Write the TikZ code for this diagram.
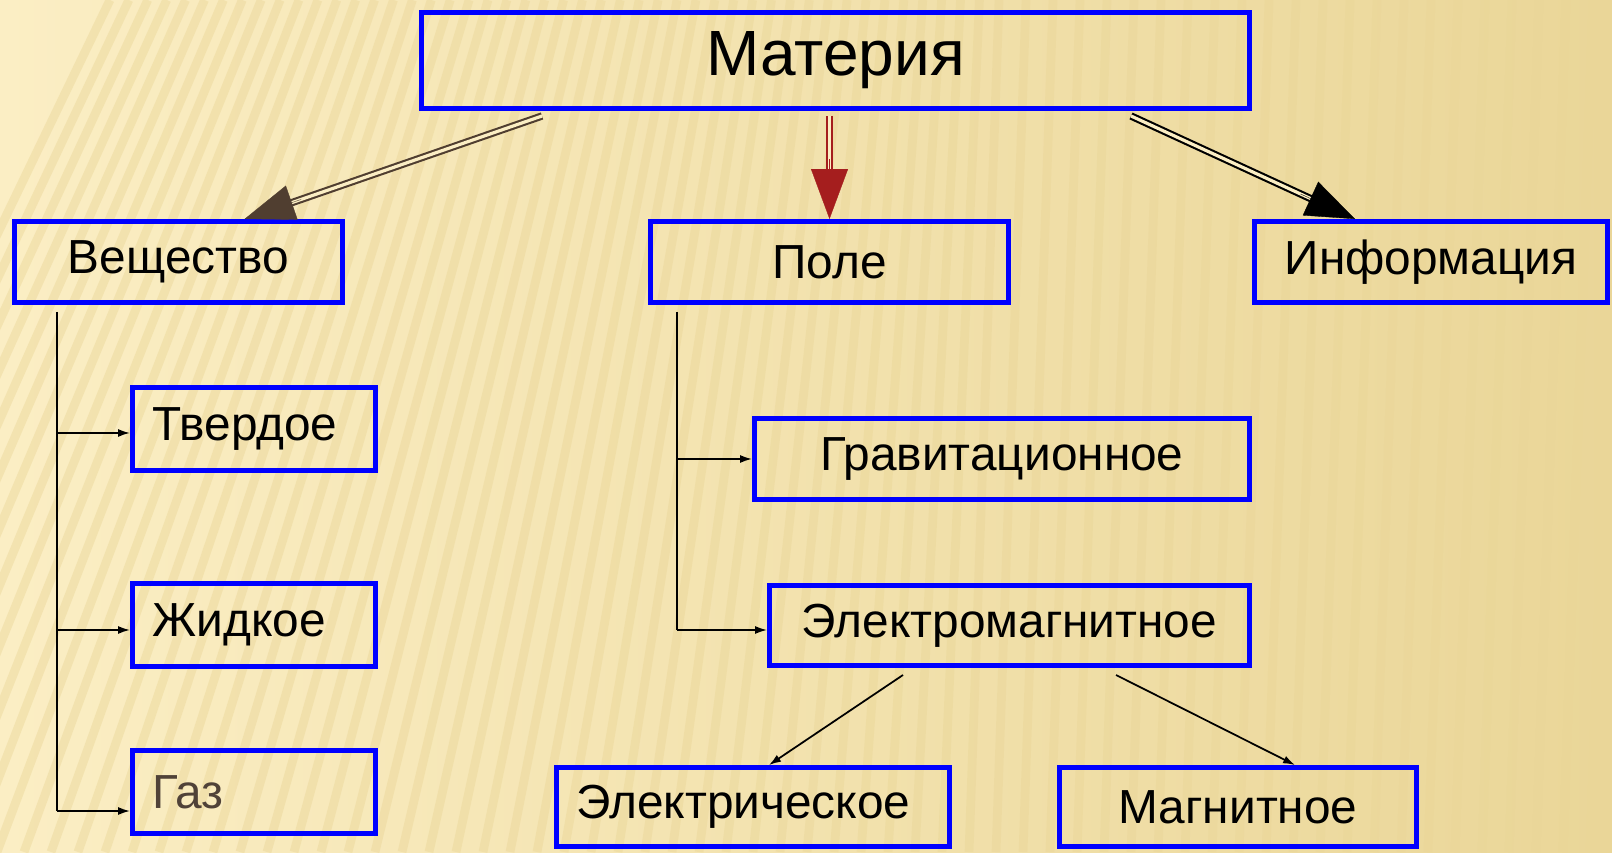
\documentclass[tikz,border=0pt]{standalone}
\usepackage{fontspec}
\setmainfont{Liberation Sans}
\usetikzlibrary{calc,positioning,arrows.meta}

\definecolor{bgcream}{RGB}{251,238,196}
\definecolor{bgtan}{RGB}{234,214,152}
\definecolor{boxblue}{RGB}{0,0,255}
\definecolor{arrbrown}{RGB}{80,62,48}
\definecolor{arrred}{RGB}{165,30,30}
\definecolor{gaztext}{RGB}{80,66,56}

\tikzset{
  box/.style={draw=boxblue, line width=1.4pt, minimum height=0.81cm, inner sep=0pt,
    font=\fontsize{13.6}{16}\selectfont},
  leftbox/.style={box, minimum width=2.43cm, minimum height=0.83cm, inner xsep=0.2cm, text width=2.03cm, align=left},
  thinarrow/.style={line width=0.5pt, -{Latex[length=1.2mm,width=0.8mm]}},
  dblline/.style={double=bgcream, double distance=0.9pt, line width=0.6pt},
  stripe/.style={draw=bgtan, line width=2.5pt, opacity=0.45}
}

\begin{document}
\begin{tikzpicture}
        \useasboundingbox (0,0) rectangle (16.12,8.52);
        % background
        \shade[left color=bgcream, right color=bgtan] (0,0) rectangle (16.12,8.52);
        \begin{scope}
            \clip (0,0) rectangle (16.12,8.52);
            \foreach \i in {0,...,80}{
                \pgfmathsetmacro{\xb}{\i*0.27-3}
                \pgfmathsetmacro{\sl}{max(0.3,3.2-0.3*\xb)}
                \draw[stripe] (\xb,0) -- (\xb+\sl,8.52);
            }
        \end{scope}

        % boxes
        \node[box, minimum width=8.28cm, minimum height=0.96cm, font=\fontsize{18.2}{21}\selectfont] (mat) at (8.355,7.915) {Материя};
        \node[box, minimum width=3.28cm] (vesh) at (1.785,5.90) {Вещество};
        \node[box, minimum width=3.58cm] (pole) at (8.295,5.90) {Поле};
        \node[box, minimum width=3.53cm] (info) at (14.31,5.90) {Информация};

        \node[leftbox] (tverd) at (2.54,4.23) {Твердое};
        \node[leftbox] (zhid) at (2.54,2.27) {Жидкое};
        \node[leftbox, text=gaztext] (gaz) at (2.54,0.60) {Газ};

        \node[box, minimum width=4.95cm] (grav) at (10.02,3.93) {Гравитационное};
        \node[box, minimum width=4.80cm, minimum height=0.80cm] (elmag) at (10.095,2.265) {Электромагнитное};
        \node[box, minimum width=3.93cm, minimum height=0.79cm, inner xsep=0.2cm, text width=3.53cm, align=left] (elek) at (7.53,0.45) {Электрическое};
        \node[box, minimum width=3.57cm, minimum height=0.79cm] (magn) at (12.38,0.45) {Магнитное};

        % double arrows from the top box
        \coordinate (m1) at (5.42,7.36);
        \coordinate (m2) at (8.295,7.36);
        \coordinate (m3) at (11.31,7.36);
        \coordinate (t1) at ([xshift=0.66cm]vesh.north);
        \coordinate (t3) at ([xshift=-0.76cm]info.north);

        \draw[dblline, draw=arrbrown, shorten >=0.4cm] (m1) -- (t1);
        \draw[arrbrown, line width=0.1pt, -{Triangle[length=0.5cm,width=0.36cm]}] ($(t1)!0.6cm!(m1)$) -- (t1);
        \draw[dblline, draw=arrred, shorten >=0.4cm] (m2) -- (pole.north);
        \draw[arrred, line width=0.1pt, -{Triangle[length=0.5cm,width=0.37cm]}] ($(pole.north)!0.6cm!(m2)$) -- (pole.north);
        \draw[dblline, draw=black, shorten >=0.4cm] (m3) -- (t3);
        \draw[black, line width=0.1pt, -{Triangle[length=0.49cm,width=0.37cm]}] ($(t3)!0.6cm!(m3)$) -- (t3);

        % Вещество branch
        \coordinate (vtop) at (0.57,5.40);
        \coordinate (vbot) at (0.57,0.41);
        \draw[line width=0.5pt] (vtop) -- (vbot);
        \draw[thinarrow] ([yshift=-0.04cm]vtop |- tverd.west) -- ([yshift=-0.04cm]tverd.west);
        \draw[thinarrow] ([yshift=-0.05cm]vtop |- zhid.west) -- ([yshift=-0.05cm]zhid.west);
        \draw[thinarrow] (vbot) -- (vbot -| gaz.west);

        % Поле branch
        \coordinate (ptop) at (6.77,5.40);
        \coordinate (pbot) at (6.77,2.22);
        \draw[line width=0.5pt] (ptop) -- (pbot);
        \draw[thinarrow] (ptop |- grav.west) -- (grav.west);
        \draw[thinarrow] (pbot) -- (pbot -| elmag.west);

        % Электромагнитное branch
        \coordinate (e1) at (9.03,1.77);
        \coordinate (e2) at (11.16,1.77);
        \draw[thinarrow] (e1) -- ([xshift=0.16cm]elek.north);
        \draw[thinarrow] (e2) -- ([xshift=0.57cm]magn.north);
\end{tikzpicture}
\end{document}
